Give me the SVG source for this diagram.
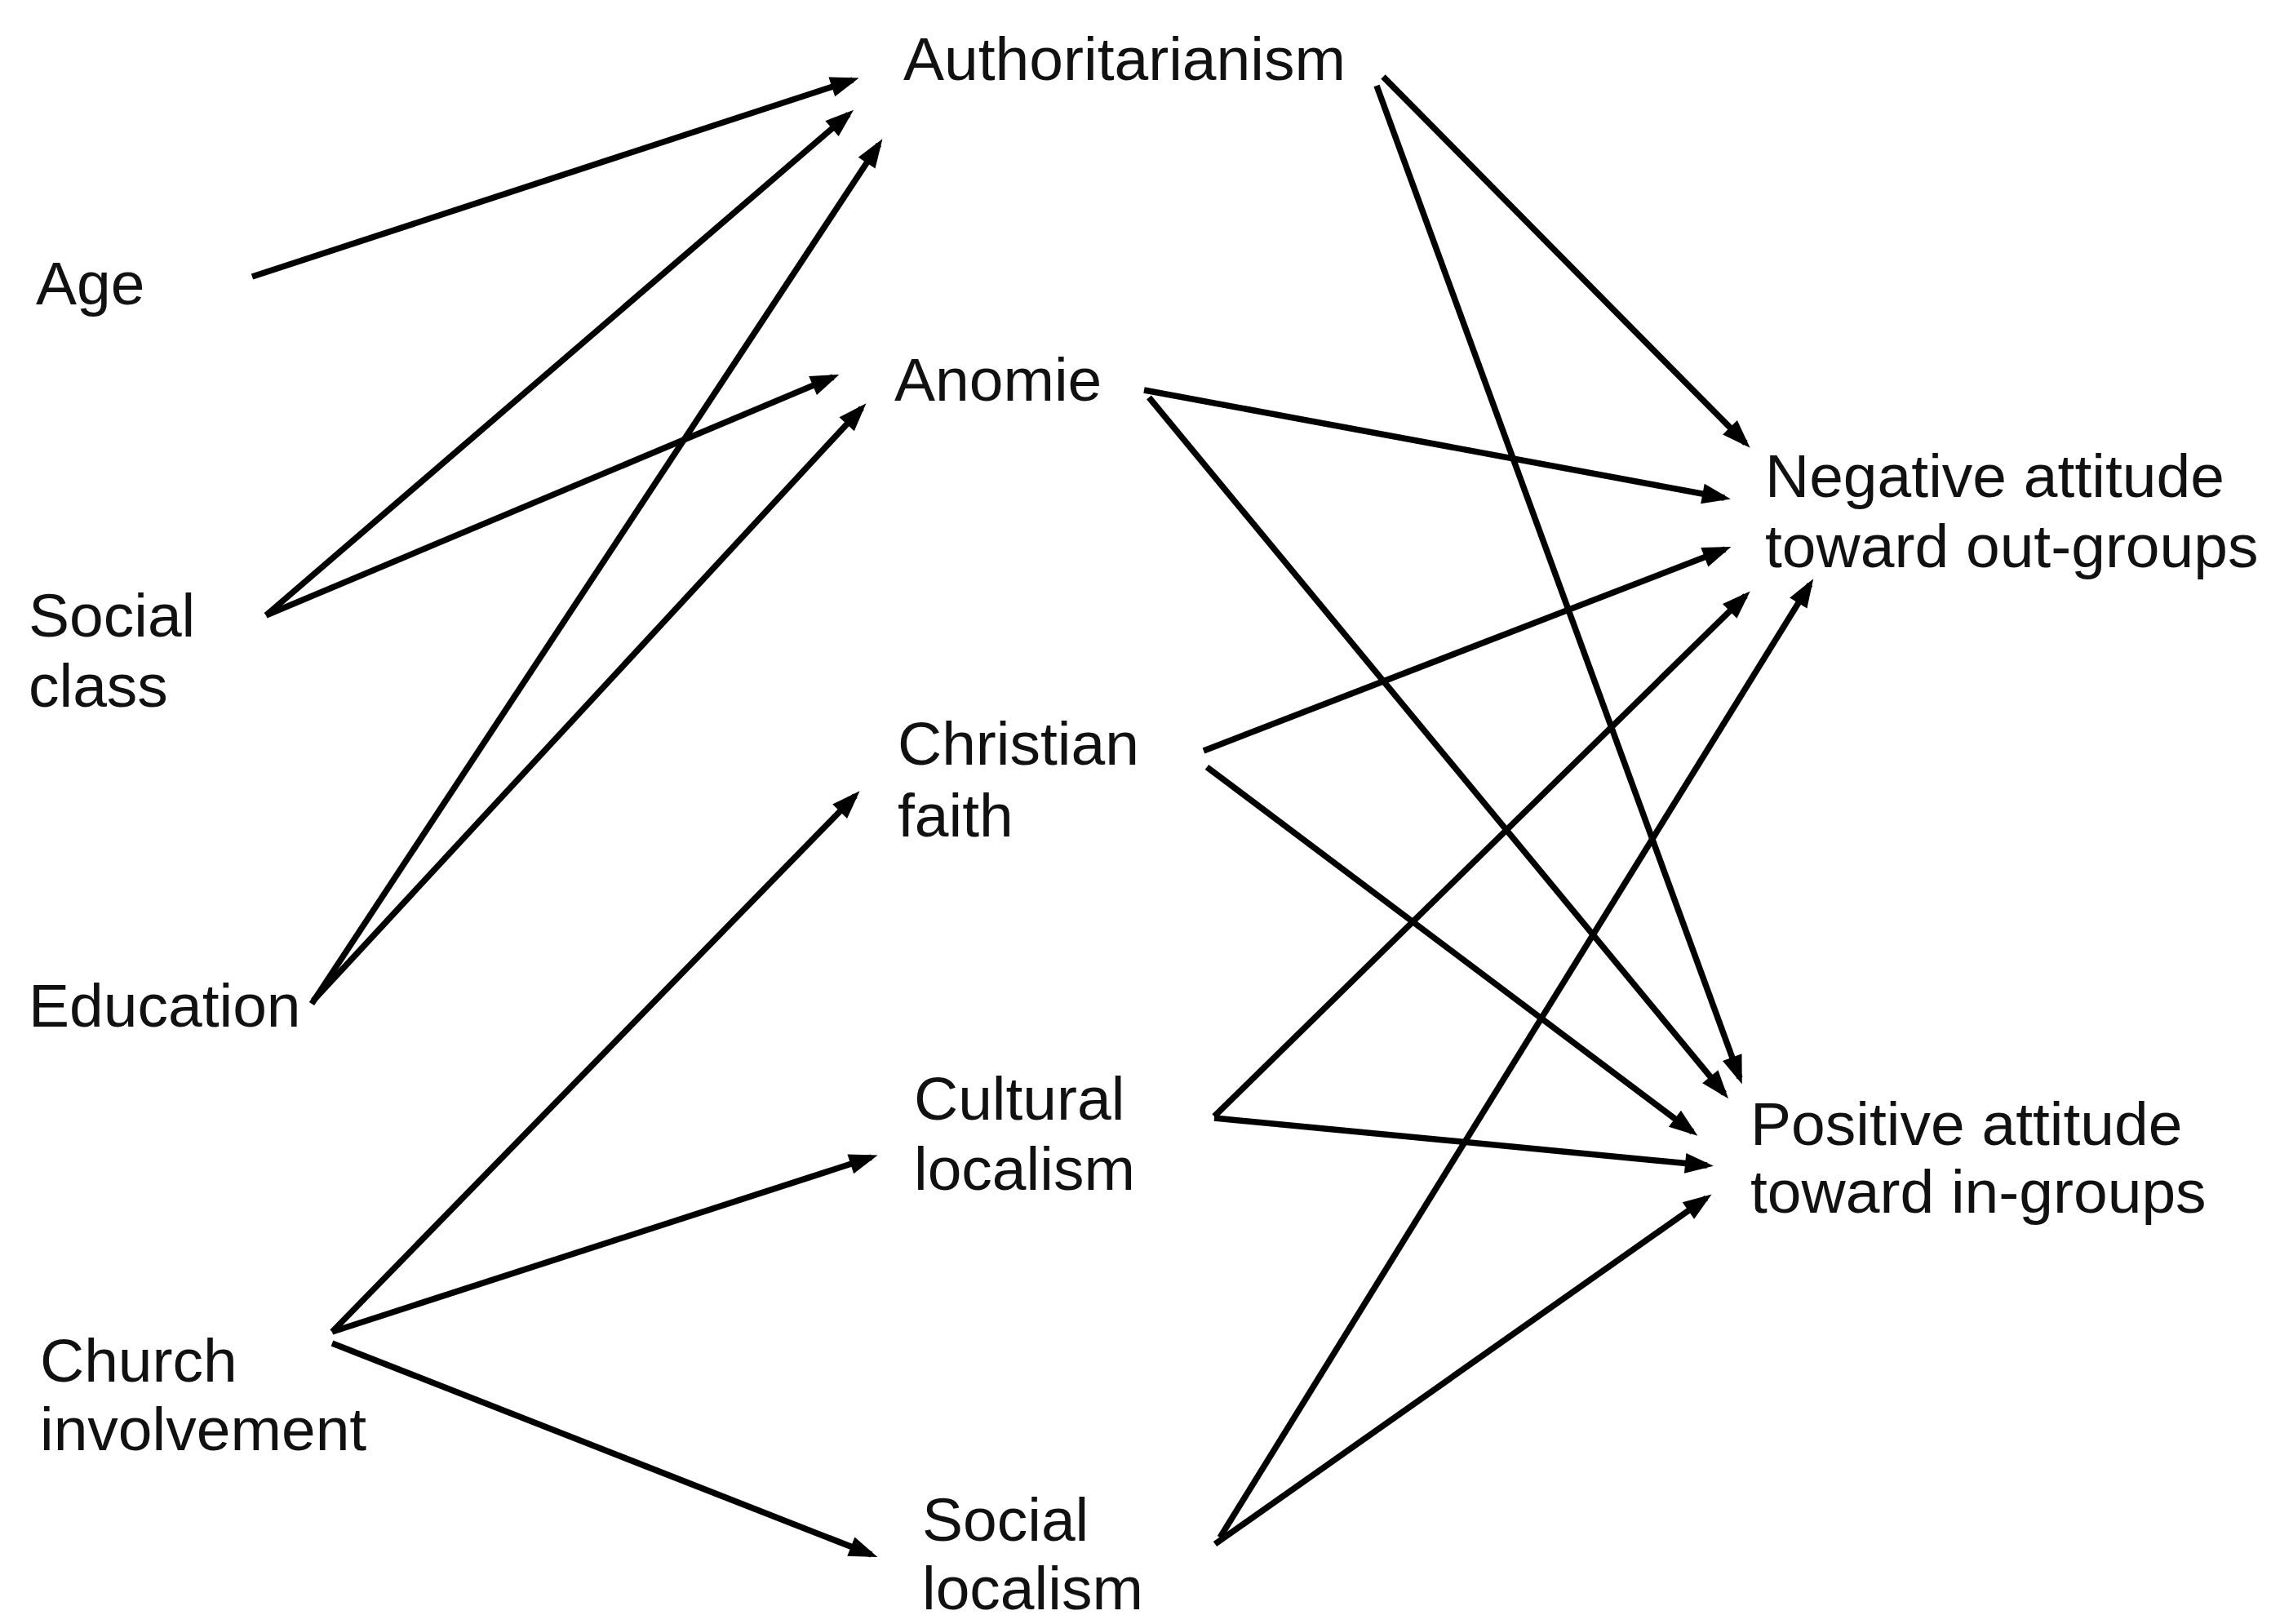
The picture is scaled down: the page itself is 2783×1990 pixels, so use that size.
<svg xmlns="http://www.w3.org/2000/svg" width="2783" height="1990" viewBox="0 0 2783 1990">
<style>
text { font-family: "Liberation Sans", Arial, sans-serif; font-size: 75px; fill: #111; }
.c line { stroke: #000; stroke-width: 7.5; marker-end: url(#ah); }
</style>
<defs>
<marker id="ah" markerUnits="userSpaceOnUse" markerWidth="44" markerHeight="32" viewBox="-34 -16 44 32" refX="0" refY="0" orient="auto">
<path d="M8,0 L-27,-12.5 L-27,12.5 Z" fill="#000"/>
</marker>
</defs>
<rect width="2783" height="1990" fill="#fff"/>
<g id="connectors" class="c">
<line x1="309" y1="339" x2="1045" y2="98"/>
<line x1="326" y1="754" x2="1040" y2="140"/>
<line x1="326" y1="754" x2="1021" y2="462"/>
<line x1="382" y1="1230" x2="1077" y2="177"/>
<line x1="384" y1="1226" x2="1056" y2="500"/>
<line x1="407" y1="1632" x2="1048" y2="975"/>
<line x1="407" y1="1632" x2="1068" y2="1418"/>
<line x1="407" y1="1646" x2="1068" y2="1905"/>
<line x1="1695" y1="94" x2="2139" y2="543"/>
<line x1="1687" y1="105" x2="2132" y2="1321"/>
<line x1="1402" y1="478" x2="2113" y2="610"/>
<line x1="1408" y1="487" x2="2113" y2="1340"/>
<line x1="1475" y1="920" x2="2114" y2="673"/>
<line x1="1479" y1="940" x2="2074" y2="1387"/>
<line x1="1488" y1="1368" x2="2139" y2="730"/>
<line x1="1488" y1="1370" x2="2092" y2="1428"/>
<line x1="1495" y1="1884" x2="2218" y2="716"/>
<line x1="1489" y1="1892" x2="2091" y2="1468"/>
</g>
<g id="authoritarianism"><text x="1107" y="98">Authoritarianism</text></g>
<g id="age"><text x="44" y="373">Age</text></g>
<g id="anomie"><text x="1096" y="491">Anomie</text></g>
<g id="social-class"><text x="35" y="780">Social</text><text x="35" y="866">class</text></g>
<g id="christian-faith"><text x="1100" y="937">Christian</text><text x="1100" y="1025">faith</text></g>
<g id="education"><text x="35" y="1258">Education</text></g>
<g id="cultural-localism"><text x="1120" y="1372">Cultural</text><text x="1120" y="1458">localism</text></g>
<g id="church-involvement"><text x="49" y="1693">Church</text><text x="49" y="1777">involvement</text></g>
<g id="negative-attitude"><text x="2163" y="609">Negative attitude</text><text x="2163" y="695">toward out-groups</text></g>
<g id="positive-attitude"><text x="2145" y="1403">Positive attitude</text><text x="2145" y="1486">toward in-groups</text></g>
<g id="social-localism"><text x="1130" y="1888">Social</text><text x="1130" y="1972">localism</text></g>
</svg>
